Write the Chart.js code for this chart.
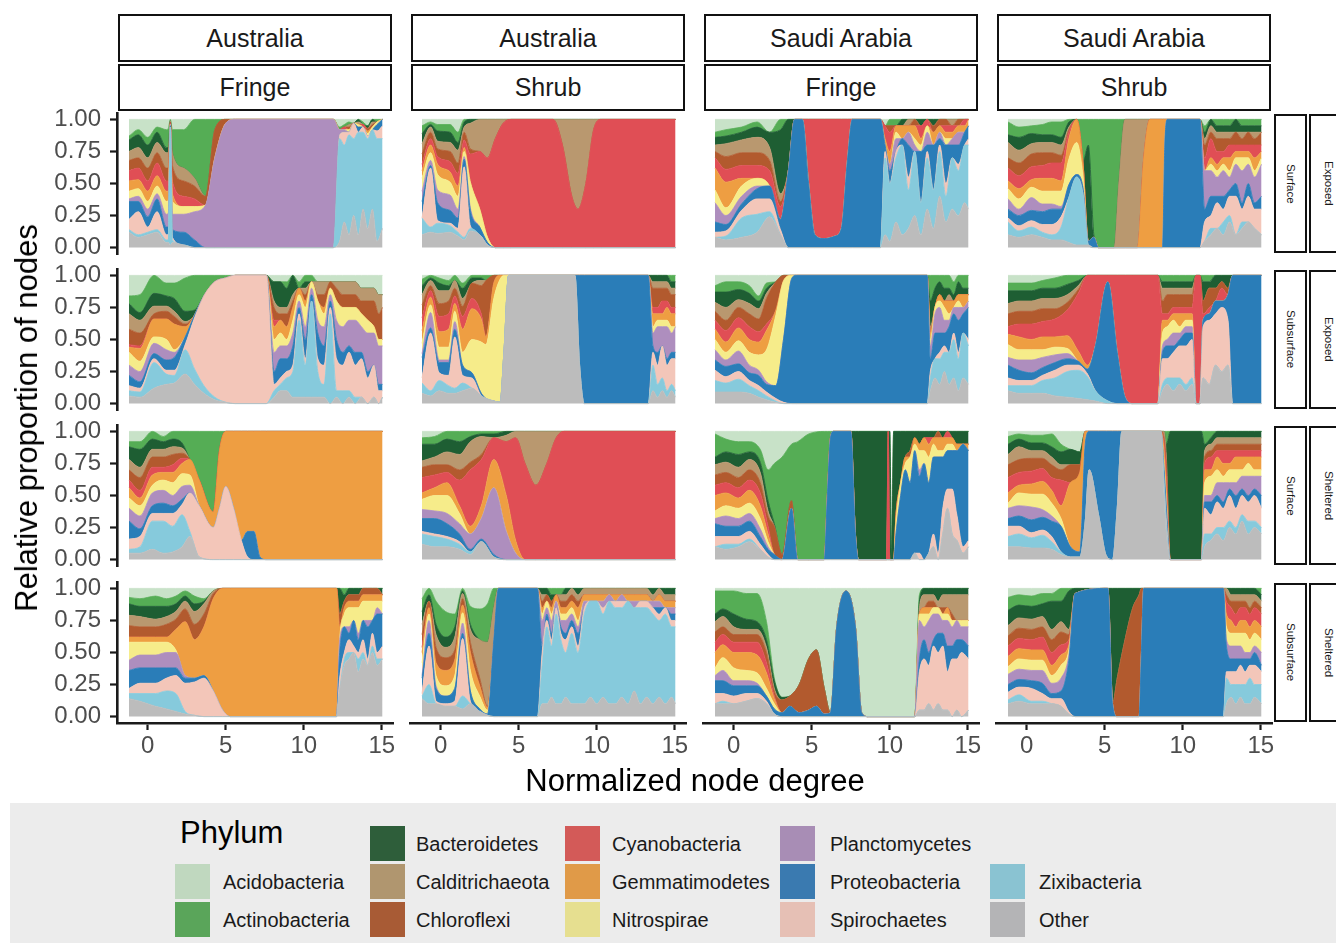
<!DOCTYPE html>
<html>
<head>
<meta charset="utf-8">
<script src="https://cdn.jsdelivr.net/npm/chart.js@4.4.1/dist/chart.umd.min.js"></script>
<style>
  body { margin: 0; background: #fff; font-family: "Liberation Sans", Arial, sans-serif; }
  #page { position: relative; width: 1336px; height: 943px; overflow: hidden; background: #fff; }
  .cv { position: absolute; }
  .strip { position: absolute; box-sizing: border-box; border: 2.5px solid #111; background: #fff;
           display: flex; align-items: center; justify-content: center; color: #1a1a1a; font-size: 25px; }
  .vstrip { position: absolute; box-sizing: border-box; border: 2.5px solid #111; background: #fff;
            display: flex; align-items: center; justify-content: center; color: #1a1a1a; font-size: 11.5px;
            writing-mode: vertical-rl; }
  .title { position: absolute; color: #000; font-size: 31px; white-space: nowrap; }
  #legend { position: absolute; left: 10px; top: 803px; width: 1326px; height: 140px; background: #ececec; }
  .key { position: absolute; width: 35px; height: 35px; }
  .ltxt { position: absolute; font-size: 20px; color: #1a1a1a; line-height: 24px; white-space: nowrap; }
</style>
</head>
<body>
<div id="page"></div>
<script>
// ==============================
// LABELS
// ==============================
// legend order (top of the stack first)
const phyla = ["Acidobacteria", "Actinobacteria", "Bacteroidetes", "Calditrichaeota", "Chloroflexi",
  "Cyanobacteria", "Gemmatimodetes", "Nitrospirae", "Planctomycetes", "Proteobacteria",
  "Spirochaetes", "Zixibacteria", "Other"];

// stack order, bottom first; every data row is [x, then one value per name here]
const stackNames = ["Other", "Zixibacteria", "Spirochaetes", "Proteobacteria", "Planctomycetes",
  "Nitrospirae", "Gemmatimodetes", "Cyanobacteria", "Chloroflexi", "Calditrichaeota",
  "Bacteroidetes", "Actinobacteria", "Acidobacteria"];

const fillColors = {
  Acidobacteria: "#c8e2c8", Actinobacteria: "#55ad55", Bacteroidetes: "#1e5e33",
  Calditrichaeota: "#b9986f", Chloroflexi: "#b25a2e", Cyanobacteria: "#e04e55",
  Gemmatimodetes: "#ee9e42", Nitrospirae: "#f6ec8a", Planctomycetes: "#ae8ebe",
  Proteobacteria: "#2a7db8", Spirochaetes: "#f3c6b9", Zixibacteria: "#86cadc", Other: "#bcbcbc"
};
const legendColors = {
  Acidobacteria: "#c0d8bf", Actinobacteria: "#5aa55a", Bacteroidetes: "#2e5e3a",
  Calditrichaeota: "#b0966f", Chloroflexi: "#a85b35", Cyanobacteria: "#d35a58",
  Gemmatimodetes: "#e09a48", Nitrospirae: "#e6df90", Planctomycetes: "#a88db5",
  Proteobacteria: "#3a7ab0", Spirochaetes: "#e6c0b5", Zixibacteria: "#8ac3d2", Other: "#b4b4b6"
};

const regions = ["Australia", "Australia", "Saudi Arabia", "Saudi Arabia"];
const habitats = ["Fringe", "Shrub", "Fringe", "Shrub"];
const depths = ["Surface", "Subsurface", "Surface", "Subsurface"];
const exposures = ["Exposed", "Exposed", "Sheltered", "Sheltered"];

const xTicks = [0, 5, 10, 15];
const yTicks = [0, 0.25, 0.5, 0.75, 1];

// ==============================
// DATA  [x, Oth, Zix, Spi, Pro, Pla, Nit, Gem, Cya, Chl, Cal, Bac, Act, Aci]
// ==============================
const auFrSurfExp = [
  [-1.2, 12,2,8,14,2,6,8,8,8,7,9,3,13],
  [-0.6, 8,2,18,8,4,6,7,9,8,8,10,4,8],
  [0.0, 10,2,4,8,6,6,8,8,10,8,10,6,14],
  [0.6, 12,2,14,10,4,6,8,10,8,8,8,4,6],
  [1.2, 4,2,4,6,10,10,8,8,10,12,4,14,8],
  [1.32, 4,2,4,6,11,10,7,8,10,12,4,15,7],
  [1.45, 2,92,0,1,1,0,0,1,1,1,0,1,0],
  [1.58, 4,2,2,6,12,10,6,10,12,10,0,18,8],
  [2.3, 2,0,0,10,14,6,0,8,12,10,0,30,8],
  [3.0, 0,0,0,6,22,4,0,6,10,6,0,46,0],
  [3.7, 0,0,0,0,33,0,0,0,7,0,0,60,0],
  [4.3, 0,0,0,0,70,0,0,0,22,0,0,8,0],
  [5.0, 0,0,0,0,97,0,0,0,3,0,0,0,0],
  [5.6, 0,0,0,0,100,0,0,0,0,0,0,0,0],
  [11.9, 0,0,0,0,100,0,0,0,0,0,0,0,0],
  [12.3, 5,80,3,0,4,0,0,0,0,0,0,2,6],
  [12.6, 20,60,10,0,2,0,0,2,0,0,0,2,4],
  [12.9, 10,78,2,0,0,2,0,0,2,2,0,2,2],
  [13.2, 25,60,12,0,0,0,0,0,0,0,0,0,3],
  [13.5, 10,80,0,4,0,2,0,0,0,2,2,0,0],
  [13.8, 30,60,4,0,0,0,0,2,0,0,0,2,2],
  [14.1, 15,70,2,0,0,2,2,0,2,0,2,0,5],
  [14.4, 30,62,0,0,0,2,0,0,2,2,2,0,0],
  [14.7, 5,80,6,5,0,2,0,0,0,0,0,2,0],
  [15.05, 15,70,10,5,0,0,0,0,0,0,0,0,0]
];

const auShSurfExp = [
  [-1.2, 10,13,0,13,8,10,6,5,8,8,8,6,5],
  [-0.65, 12,4,46,2,4,6,6,5,5,4,2,2,2],
  [-0.2, 11,8,2,14,10,12,8,6,6,6,8,5,4],
  [0.6, 12,5,2,10,12,10,8,8,8,7,8,6,4],
  [1.1, 9,3,3,8,7,10,8,10,8,10,6,8,10],
  [1.5, 6,2,55,6,2,4,3,6,6,4,4,2,0],
  [1.9, 13,2,2,12,2,20,0,22,4,20,3,0,0],
  [2.5, 10,0,0,6,0,14,0,45,0,25,0,0,0],
  [3.0, 2,0,0,2,0,4,0,62,0,30,0,0,0],
  [3.5, 0,0,0,0,0,0,0,85,0,15,0,0,0],
  [4.0, 0,0,0,0,0,0,0,97,0,3,0,0,0],
  [4.5, 0,0,0,0,0,0,0,100,0,0,0,0,0],
  [7.2, 0,0,0,0,0,0,0,100,0,0,0,0,0],
  [7.8, 0,0,0,0,0,0,0,80,0,20,0,0,0],
  [8.4, 0,0,0,0,0,0,0,40,0,60,0,0,0],
  [8.8, 0,0,0,0,0,0,0,30,0,70,0,0,0],
  [9.3, 0,0,0,0,0,0,0,50,0,50,0,0,0],
  [9.8, 0,0,0,0,0,0,0,92,0,8,0,0,0],
  [10.3, 0,0,0,0,0,0,0,100,0,0,0,0,0],
  [15.05, 0,0,0,0,0,0,0,100,0,0,0,0,0]
];

const saFrSurfExp = [
  [-1.2, 8,0,4,8,15,10,17,8,5,5,6,4,10],
  [-0.5, 6,3,4,5,7,6,20,10,10,10,6,5,8],
  [0.5, 8,15,6,5,6,8,6,10,10,10,6,4,6],
  [1.5, 12,14,12,8,2,6,0,10,10,12,8,4,2],
  [2.3, 24,4,10,10,0,0,0,12,8,10,12,0,10],
  [3.0, 10,0,4,8,0,0,0,10,4,6,50,8,0],
  [3.5, 0,0,0,60,0,0,0,0,0,0,40,0,0],
  [3.9, 0,0,0,100,0,0,0,0,0,0,0,0,0],
  [4.4, 0,0,0,100,0,0,0,0,0,0,0,0,0],
  [4.8, 0,0,0,50,0,0,0,50,0,0,0,0,0],
  [5.2, 0,0,0,10,0,0,0,90,0,0,0,0,0],
  [5.8, 0,0,0,7,0,0,0,93,0,0,0,0,0],
  [6.5, 0,0,0,9,0,0,0,91,0,0,0,0,0],
  [6.9, 0,0,0,15,0,0,0,85,0,0,0,0,0],
  [7.3, 0,0,0,70,0,0,0,30,0,0,0,0,0],
  [7.6, 0,0,0,100,0,0,0,0,0,0,0,0,0],
  [9.4, 0,0,0,100,0,0,0,0,0,0,0,0,0],
  [9.7, 10,60,5,5,0,0,5,10,0,0,0,0,5],
  [10.0, 5,45,0,10,5,0,10,15,5,0,0,5,0],
  [10.4, 20,50,5,0,10,5,5,0,0,0,0,5,0],
  [10.8, 10,70,0,5,0,0,10,0,0,0,5,0,0],
  [11.2, 15,30,10,25,10,0,5,0,0,5,0,0,0],
  [11.6, 25,50,0,0,5,5,10,0,5,0,0,0,0],
  [12.0, 10,25,0,40,0,5,5,10,0,0,5,0,0],
  [12.4, 30,40,5,5,10,5,0,5,0,0,0,0,0],
  [12.8, 15,30,0,35,0,0,10,0,5,0,5,0,0],
  [13.2, 40,35,5,5,5,0,5,0,5,0,0,0,0],
  [13.6, 20,20,10,30,0,5,5,5,5,0,0,0,0],
  [14.0, 30,40,0,10,5,0,5,5,0,5,0,0,0],
  [14.4, 25,35,5,15,10,0,5,0,5,0,0,0,0],
  [14.8, 35,45,0,10,0,0,5,5,0,0,0,0,0],
  [15.05, 30,50,5,10,0,0,5,0,0,0,0,0,0]
];

const saShSurfExp = [
  [-1.2, 10,10,3,7,8,8,6,10,8,12,6,10,2],
  [-0.5, 8,5,4,8,5,8,8,10,10,10,10,8,6],
  [0.3, 10,6,5,8,10,8,6,10,10,8,8,6,5],
  [1.0, 8,4,6,10,6,10,10,10,10,8,6,8,4],
  [1.6, 6,4,8,12,4,10,10,12,8,8,6,10,2],
  [2.2, 6,10,8,6,2,12,8,14,6,8,6,12,2],
  [2.7, 4,35,0,10,0,20,16,5,2,2,4,2,0],
  [3.2, 2,53,0,2,0,25,18,0,0,0,0,0,0],
  [3.6, 2,40,0,5,0,10,10,0,0,0,0,33,0],
  [3.95, 2,0,0,3,0,0,0,0,0,0,75,20,0],
  [4.3, 0,0,0,8,0,0,0,0,0,0,2,90,0],
  [4.6, 0,0,0,0,0,0,0,0,0,0,0,100,0],
  [5.6, 0,0,0,0,0,0,0,0,0,0,0,100,0],
  [5.9, 0,0,0,0,0,0,0,0,0,50,0,50,0],
  [6.3, 0,0,0,0,0,0,0,0,0,100,0,0,0],
  [7.1, 0,0,0,0,0,0,0,0,0,100,0,0,0],
  [7.5, 0,0,0,0,0,0,70,0,0,30,0,0,0],
  [7.9, 0,0,0,0,0,0,100,0,0,0,0,0,0],
  [8.7, 0,0,0,0,0,0,100,0,0,0,0,0,0],
  [8.85, 0,0,0,80,0,0,20,0,0,0,0,0,0],
  [9.0, 0,0,0,100,0,0,0,0,0,0,0,0,0],
  [11.1, 0,0,0,100,0,0,0,0,0,0,0,0,0],
  [11.4, 5,0,15,10,30,0,0,10,10,5,5,5,5],
  [11.8, 10,5,10,15,20,5,5,15,5,5,5,0,0],
  [12.2, 15,0,20,5,15,5,5,10,10,5,5,5,0],
  [12.6, 10,10,10,10,20,5,5,5,10,5,5,5,0],
  [13.0, 20,5,15,5,10,5,10,10,5,5,5,5,0],
  [13.4, 10,0,30,10,15,5,5,5,10,0,10,0,0],
  [13.8, 15,5,10,5,25,10,5,5,5,5,5,5,0],
  [14.2, 20,0,20,10,15,5,5,5,10,0,5,5,0],
  [14.6, 15,0,15,5,20,5,10,10,5,5,5,5,0],
  [15.05, 10,0,20,10,25,5,5,5,10,0,5,5,0]
];

const auFrSubExp = [
  [-1.2, 6,4,4,8,8,10,4,2,12,12,8,6,16],
  [-0.5, 5,4,3,5,8,8,10,2,10,10,6,14,15],
  [0.4, 12,20,3,4,8,5,14,0,4,6,10,14,0],
  [1.2, 15,8,3,8,8,8,16,0,6,4,8,10,6],
  [1.7, 16,6,4,10,4,2,20,0,6,4,10,12,6],
  [2.4, 23,19,4,6,0,0,8,0,2,2,8,26,2],
  [3.0, 15,12,40,2,0,0,0,0,0,0,4,27,0],
  [3.6, 8,6,70,0,0,0,0,0,0,0,0,16,0],
  [4.3, 3,2,90,0,0,0,0,0,0,0,0,5,0],
  [5.0, 1,0,97,0,0,0,0,0,0,0,0,2,0],
  [5.6, 0,0,100,0,0,0,0,0,0,0,0,0,0],
  [7.6, 0,0,100,0,0,0,0,0,0,0,0,0,0],
  [8.1, 5,5,5,10,15,10,10,5,10,5,15,0,5],
  [8.5, 10,5,5,15,10,10,10,0,5,5,20,0,5],
  [8.9, 10,10,5,10,10,5,10,0,10,5,15,5,5],
  [9.3, 5,20,5,15,10,10,10,0,5,5,15,0,0],
  [9.7, 5,60,5,5,5,5,5,0,0,0,0,5,5],
  [10.1, 5,25,5,15,10,15,5,0,5,5,5,5,0],
  [10.5, 5,75,0,5,5,5,0,0,0,0,0,5,0],
  [10.9, 5,20,10,20,10,15,0,0,5,10,0,0,5],
  [11.3, 5,10,15,15,15,10,5,0,10,10,0,0,5],
  [11.7, 0,70,5,5,5,5,0,0,5,0,0,0,5],
  [12.1, 5,5,25,15,15,15,0,0,10,5,0,0,5],
  [12.5, 0,10,20,10,20,15,0,0,10,10,0,0,5],
  [12.9, 5,5,30,5,20,10,0,0,10,10,0,0,5],
  [13.3, 0,5,25,10,25,10,0,0,10,10,0,0,5],
  [13.7, 5,0,30,5,20,10,0,0,10,10,0,0,10],
  [14.1, 0,0,20,5,30,10,0,0,15,10,0,0,10],
  [14.5, 5,0,25,0,25,5,0,0,20,10,0,0,10],
  [14.8, 0,0,10,5,30,5,0,0,20,15,0,0,15],
  [15.05, 5,0,5,5,30,5,0,0,25,10,0,0,15]
];

const auShSubExp = [
  [-1.2, 8,8,4,16,3,8,10,10,10,8,7,5,3],
  [-0.65, 6,4,45,4,12,6,6,5,4,4,2,2,0],
  [-0.1, 10,8,6,8,2,10,12,12,10,10,6,4,2],
  [0.5, 8,6,8,10,2,10,14,12,10,8,4,4,4],
  [0.9, 8,4,40,6,6,8,6,6,6,6,0,4,0],
  [1.4, 10,6,6,8,0,10,18,10,8,6,8,4,6],
  [2.0, 12,0,8,4,0,26,24,8,12,0,4,2,0],
  [2.6, 6,0,0,2,0,40,18,4,22,4,2,2,0],
  [2.9, 4,0,0,0,0,42,6,0,44,0,0,4,0],
  [3.4, 2,0,0,0,0,80,12,0,6,0,0,0,0],
  [3.8, 1,0,0,0,0,96,3,0,0,0,0,0,0],
  [4.05, 40,0,0,0,0,60,0,0,0,0,0,0,0],
  [4.35, 100,0,0,0,0,0,0,0,0,0,0,0,0],
  [8.6, 100,0,0,0,0,0,0,0,0,0,0,0,0],
  [8.9, 30,0,0,70,0,0,0,0,0,0,0,0,0],
  [9.2, 0,0,0,100,0,0,0,0,0,0,0,0,0],
  [13.3, 0,0,0,100,0,0,0,0,0,0,0,0,0],
  [13.6, 10,20,10,5,10,5,10,5,15,5,5,0,0],
  [13.9, 5,10,15,10,20,5,5,5,15,5,5,0,0],
  [14.2, 10,10,25,0,15,5,5,10,10,5,5,0,0],
  [14.5, 5,5,20,5,25,5,10,5,10,5,5,0,0],
  [14.8, 10,5,20,5,15,5,10,5,10,5,5,5,0],
  [15.05, 5,5,25,5,20,0,10,5,10,5,5,5,0]
];

const saFrSubExp = [
  [-1.2, 9,9,8,8,8,8,8,7,7,7,8,5,8],
  [-0.5, 9,7,5,8,5,6,8,9,8,10,12,8,5],
  [0.3, 9,10,6,6,10,8,10,8,8,6,8,6,5],
  [1.0, 8,6,4,6,6,10,10,10,10,8,8,6,8],
  [1.6, 5,5,4,8,4,12,10,8,10,8,6,4,16],
  [2.1, 3,3,3,6,2,25,15,5,20,4,4,4,6],
  [2.7, 1,1,2,10,0,55,4,0,22,0,0,0,5],
  [3.2, 0,0,1,50,0,45,0,0,4,0,0,0,0],
  [3.7, 0,0,0,97,0,3,0,0,0,0,0,0,0],
  [4.0, 0,0,0,100,0,0,0,0,0,0,0,0,0],
  [12.4, 0,0,0,100,0,0,0,0,0,0,0,0,0],
  [12.6, 10,10,5,10,10,5,5,0,0,5,20,20,0],
  [12.9, 20,15,0,20,15,5,0,0,0,0,15,10,0],
  [13.2, 15,20,5,15,20,5,5,0,0,0,10,5,0],
  [13.5, 25,15,5,10,10,10,5,0,0,0,10,10,0],
  [13.8, 15,25,0,20,5,5,10,0,0,5,5,10,0],
  [14.1, 20,30,5,15,5,0,5,0,0,0,5,10,5],
  [14.4, 10,25,5,25,10,5,5,0,0,0,10,5,0],
  [14.7, 20,35,0,15,5,0,10,0,0,0,5,10,0],
  [15.05, 15,30,5,25,5,0,5,0,0,0,5,10,0]
];

const saShSubExp = [
  [-1.2, 10,4,6,10,6,10,8,6,10,8,10,6,6],
  [-0.5, 8,6,4,8,8,8,10,10,10,8,8,6,6],
  [0.3, 8,6,4,6,10,8,8,12,10,8,8,6,6],
  [1.0, 8,10,4,6,8,6,10,12,10,8,8,6,4],
  [1.8, 6,14,6,6,6,6,8,14,8,8,8,8,2],
  [2.6, 5,20,5,5,4,4,10,20,6,6,8,7,0],
  [3.3, 4,22,4,3,0,0,8,45,3,3,4,4,0],
  [3.9, 3,18,2,4,0,0,3,70,0,0,0,0,0],
  [4.4, 2,8,0,35,0,0,0,55,0,0,0,0,0],
  [5.2, 0,2,0,93,0,0,0,5,0,0,0,0,0],
  [5.8, 0,0,0,40,0,0,0,60,0,0,0,0,0],
  [6.3, 0,0,0,5,0,0,0,95,0,0,0,0,0],
  [6.8, 0,0,0,0,0,0,0,100,0,0,0,0,0],
  [8.4, 0,0,0,0,0,0,0,100,0,0,0,0,0],
  [8.7, 10,5,20,5,5,10,10,5,10,10,5,5,0],
  [9.0, 15,5,15,10,5,10,5,5,15,5,5,5,0],
  [9.4, 10,10,20,5,10,10,5,5,10,5,5,5,0],
  [9.8, 15,5,25,5,5,5,10,5,10,5,5,5,0],
  [10.2, 10,5,30,10,5,5,5,5,10,5,5,5,0],
  [10.6, 15,5,30,5,5,5,5,5,10,5,5,5,0],
  [10.85, 0,0,0,0,0,0,0,100,0,0,0,0,0],
  [11.1, 0,0,0,0,0,0,0,100,0,0,0,0,0],
  [11.3, 20,0,40,5,0,0,0,5,10,0,15,5,0],
  [11.7, 15,0,50,5,0,0,0,5,15,0,5,5,0],
  [12.1, 30,0,40,10,0,0,0,0,10,0,10,0,0],
  [12.5, 25,0,50,5,0,0,0,10,5,0,5,0,0],
  [12.9, 30,0,35,20,0,0,0,0,5,0,10,0,0],
  [13.2, 0,0,0,100,0,0,0,0,0,0,0,0,0],
  [15.05, 0,0,0,100,0,0,0,0,0,0,0,0,0]
];

const auFrSurfShe = [
  [-1.2, 5,3,8,14,10,8,8,6,8,8,10,4,8],
  [-0.5, 5,5,8,6,10,8,6,6,10,8,14,6,8],
  [0.3, 8,22,6,6,10,6,8,6,8,6,8,6,0],
  [1.0, 5,25,6,8,10,8,6,4,8,6,6,4,4],
  [1.6, 6,20,10,6,8,10,8,6,8,6,6,6,0],
  [2.2, 10,25,8,4,10,10,8,4,4,4,4,9,0],
  [2.7, 18,4,30,0,6,8,12,0,0,0,0,22,0],
  [3.3, 2,0,40,0,0,0,20,0,0,0,0,38,0],
  [4.2, 0,0,25,0,0,0,12,0,0,0,0,63,0],
  [4.6, 0,0,40,0,0,0,45,0,0,0,0,15,0],
  [5.0, 0,0,57,0,0,0,43,0,0,0,0,0,0],
  [5.5, 0,0,40,0,0,0,60,0,0,0,0,0,0],
  [6.0, 0,0,15,0,0,0,85,0,0,0,0,0,0],
  [6.4, 0,0,2,20,0,0,78,0,0,0,0,0,0],
  [6.8, 0,0,0,22,0,0,78,0,0,0,0,0,0],
  [7.2, 0,0,0,2,0,0,98,0,0,0,0,0,0],
  [7.6, 0,0,0,0,0,0,100,0,0,0,0,0,0],
  [15.05, 0,0,0,0,0,0,100,0,0,0,0,0,0]
];

const auShSurfShe = [
  [-1.2, 12,8,2,10,7,8,5,12,8,5,13,5,5],
  [-0.4, 10,8,2,12,6,12,6,10,8,6,10,6,4],
  [0.4, 10,6,2,10,8,14,10,8,6,10,10,6,0],
  [1.2, 8,4,2,6,8,8,6,20,8,12,10,8,0],
  [1.9, 4,2,0,2,12,0,6,44,6,16,4,4,0],
  [2.6, 14,0,0,2,16,0,10,36,4,14,2,2,0],
  [3.4, 2,0,0,2,52,0,22,17,0,0,3,2,0],
  [4.2, 0,0,0,0,22,0,28,42,0,5,3,0,0],
  [4.8, 0,0,0,0,5,0,10,80,0,5,0,0,0],
  [5.4, 0,0,0,0,0,0,0,75,0,25,0,0,0],
  [6.1, 0,0,0,0,0,0,0,58,0,42,0,0,0],
  [6.8, 0,0,0,0,0,0,0,75,0,25,0,0,0],
  [7.4, 0,0,0,0,0,0,0,95,0,5,0,0,0],
  [7.9, 0,0,0,0,0,0,0,100,0,0,0,0,0],
  [15.05, 0,0,0,0,0,0,0,100,0,0,0,0,0]
];

const saFrSurfShe = [
  [-1.2, 10,0,8,10,4,6,12,8,8,8,6,18,2],
  [-0.5, 8,4,6,8,8,8,10,8,8,8,8,10,6],
  [0.3, 10,2,6,8,6,8,8,8,8,8,10,10,8],
  [1.0, 14,2,6,8,6,8,10,8,8,8,6,8,8],
  [1.7, 8,0,4,6,6,8,10,10,8,8,8,10,14],
  [2.2, 2,0,2,4,2,4,6,6,8,4,8,24,30],
  [2.6, 0,0,0,4,0,0,0,0,22,0,2,47,25],
  [3.1, 0,0,0,0,0,0,0,0,4,0,0,76,20],
  [3.7, 0,0,0,40,0,0,0,0,6,0,0,44,10],
  [4.1, 0,0,0,0,0,0,0,0,0,0,0,92,8],
  [4.8, 0,0,0,0,0,0,0,0,0,0,0,98,2],
  [5.8, 0,0,0,0,0,0,0,0,0,0,0,100,0],
  [6.0, 0,0,0,50,0,0,0,0,0,0,0,50,0],
  [6.2, 0,0,0,95,0,0,0,0,0,0,0,5,0],
  [6.4, 0,0,0,100,0,0,0,0,0,0,0,0,0],
  [7.5, 0,0,0,100,0,0,0,0,0,0,0,0,0],
  [7.8, 0,0,0,20,0,0,0,0,0,0,80,0,0],
  [8.0, 0,0,0,0,0,0,0,0,0,0,100,0,0],
  [9.8, 0,0,0,0,0,0,0,0,0,0,100,0,0],
  [9.9, 0,0,0,0,0,0,0,100,0,0,0,0,0],
  [10.0, 0,0,0,0,0,0,0,0,0,0,100,0,0],
  [10.12, 0,0,0,0,0,0,0,0,0,0,0,0,0],
  [10.25, 0,0,0,0,0,0,0,0,0,0,100,0,0],
  [10.4, 0,0,0,20,0,10,5,0,0,0,65,0,0],
  [10.7, 0,0,0,50,0,10,0,0,0,0,40,0,0],
  [11.0, 0,0,0,70,0,5,5,0,0,0,20,0,0],
  [11.3, 0,0,0,60,0,20,0,0,5,0,15,0,0],
  [11.6, 5,0,0,80,0,5,5,0,0,0,5,0,0],
  [11.9, 0,0,5,60,5,15,5,0,0,0,10,0,0],
  [12.2, 0,0,0,75,0,10,10,0,0,0,5,0,0],
  [12.5, 5,0,0,55,0,20,10,5,0,0,5,0,0],
  [12.8, 10,0,10,60,0,10,5,0,0,0,5,0,0],
  [13.1, 0,0,5,75,0,5,10,0,5,0,0,0,0],
  [13.4, 20,0,20,40,0,5,10,0,0,0,5,0,0],
  [13.7, 40,0,15,30,0,5,5,5,0,0,0,0,0],
  [14.0, 20,0,35,30,0,5,5,0,0,0,5,0,0],
  [14.3, 15,0,20,50,0,0,5,0,0,0,10,0,0],
  [14.7, 5,0,5,80,0,0,0,0,0,0,10,0,0],
  [15.05, 10,0,5,70,0,0,5,0,0,0,10,0,0]
];

const saShSurfShe = [
  [-1.2, 10,8,8,6,8,4,8,12,10,8,8,6,4],
  [-0.5, 10,10,6,8,8,10,6,10,10,10,6,4,2],
  [0.3, 9,8,4,10,10,10,8,10,10,6,6,6,3],
  [1.0, 9,10,4,10,6,12,10,10,8,6,6,6,3],
  [1.6, 8,6,4,12,4,10,10,10,10,6,8,10,2],
  [2.2, 4,2,0,20,0,6,10,20,8,4,10,6,10],
  [2.8, 2,0,0,8,0,0,50,0,14,0,12,0,14],
  [3.4, 2,0,0,4,0,0,62,0,6,0,10,0,16],
  [3.75, 30,0,0,60,0,0,10,0,0,0,0,0,0],
  [4.0, 70,0,0,30,0,0,0,0,0,0,0,0,0],
  [4.6, 35,0,0,65,0,0,0,0,0,0,0,0,0],
  [5.1, 3,0,0,97,0,0,0,0,0,0,0,0,0],
  [5.5, 0,0,0,100,0,0,0,0,0,0,0,0,0],
  [5.8, 40,0,0,60,0,0,0,0,0,0,0,0,0],
  [6.1, 100,0,0,0,0,0,0,0,0,0,0,0,0],
  [8.6, 100,0,0,0,0,0,0,0,0,0,0,0,0],
  [8.8, 50,10,0,10,0,5,10,5,5,5,0,0,0],
  [8.95, 20,5,5,10,0,5,10,10,10,5,10,10,0],
  [9.2, 0,0,0,0,0,0,0,0,0,0,100,0,0],
  [11.2, 0,0,0,0,0,0,0,0,0,0,100,0,0],
  [11.4, 10,10,20,5,5,10,10,5,5,5,5,10,0],
  [11.8, 15,5,15,10,5,15,5,10,5,5,5,5,0],
  [12.2, 20,5,20,5,10,10,10,5,5,5,5,0,0],
  [12.6, 15,10,15,5,15,5,10,10,5,5,5,0,0],
  [13.0, 25,5,20,5,5,10,5,10,5,5,5,0,0],
  [13.4, 20,5,15,10,10,10,10,5,5,5,5,0,0],
  [13.8, 30,5,15,5,10,5,10,5,5,5,5,0,0],
  [14.2, 20,10,15,5,15,10,5,5,5,5,5,0,0],
  [14.6, 25,5,20,5,10,5,10,5,5,5,5,0,0],
  [15.05, 20,5,15,10,15,5,10,5,5,5,5,0,0]
];

const auFrSubShe = [
  [-1.2, 14,4,4,14,8,14,4,0,9,8,9,5,7],
  [-0.5, 12,6,8,12,10,10,4,0,8,8,8,6,8],
  [0.5, 8,10,8,12,10,10,4,0,8,6,10,8,6],
  [1.2, 6,14,10,8,12,8,4,0,10,6,8,6,8],
  [1.8, 4,14,14,6,12,2,16,0,8,6,6,6,6],
  [2.4, 2,2,22,4,2,0,42,0,10,6,4,4,2],
  [3.0, 1,0,26,3,0,0,30,0,12,10,6,6,6],
  [3.6, 0,0,30,2,0,0,38,0,10,8,2,2,8],
  [4.2, 0,0,20,0,0,0,72,0,4,2,0,0,2],
  [4.8, 0,0,5,0,0,0,95,0,0,0,0,0,0],
  [5.3, 0,0,0,0,0,0,100,0,0,0,0,0,0],
  [12.1, 0,0,0,0,0,0,100,0,0,0,0,0,0],
  [12.3, 20,0,10,20,10,0,10,0,10,0,20,0,0],
  [12.6, 40,5,5,20,0,10,5,0,5,0,5,5,0],
  [12.9, 45,5,10,5,5,15,5,0,5,0,5,0,0],
  [13.2, 50,0,5,20,0,10,5,0,5,0,5,0,0],
  [13.5, 35,10,5,10,5,20,5,0,5,0,5,0,0],
  [13.8, 45,5,10,15,0,15,5,0,5,0,0,0,0],
  [14.1, 40,0,5,25,5,15,5,0,5,0,0,0,0],
  [14.4, 50,5,10,10,0,15,5,0,5,0,0,0,0],
  [14.7, 40,5,5,30,5,5,5,0,5,0,0,0,0],
  [15.05, 45,0,10,25,0,10,5,0,0,0,5,0,0]
];

const auShSubShe = [
  [-1.2, 14,2,2,12,2,10,8,4,10,8,10,10,8],
  [-0.75, 10,15,30,10,10,5,5,0,5,0,5,5,0],
  [-0.3, 10,0,2,10,2,8,10,0,12,10,8,18,10],
  [0.3, 8,0,2,6,0,8,12,0,10,8,8,20,18],
  [0.9, 8,0,4,10,0,10,12,0,8,10,8,10,20],
  [1.4, 6,10,45,4,8,8,6,0,5,4,2,2,0],
  [1.9, 10,0,2,8,0,16,14,0,8,10,4,14,14],
  [2.5, 4,0,0,2,0,10,8,0,6,30,0,24,16],
  [3.0, 1,0,0,1,0,3,2,0,1,50,0,30,12],
  [3.4, 0,0,0,60,0,0,0,0,0,25,0,15,0],
  [3.7, 0,0,0,100,0,0,0,0,0,0,0,0,0],
  [6.2, 0,0,0,100,0,0,0,0,0,0,0,0,0],
  [6.5, 10,30,10,5,20,5,5,0,5,5,5,0,0],
  [6.8, 10,60,5,5,5,5,0,0,5,0,5,0,0],
  [7.1, 15,40,5,5,10,5,5,0,5,0,5,5,0],
  [7.4, 10,70,5,0,5,0,5,0,0,0,0,5,0],
  [7.7, 10,50,5,5,5,5,5,0,5,5,0,5,0],
  [8.0, 15,35,10,5,10,5,5,0,5,5,5,0,0],
  [8.4, 10,55,5,5,5,5,5,0,5,5,0,0,0],
  [8.8, 10,40,5,10,5,5,10,0,5,5,5,0,0],
  [9.2, 10,70,5,0,5,0,5,0,0,5,0,0,0],
  [9.6, 15,75,0,0,0,0,5,0,0,5,0,0,0],
  [10.0, 10,80,0,0,0,0,5,0,0,5,0,0,0],
  [10.4, 15,65,5,0,5,0,5,0,0,5,0,0,0],
  [10.8, 10,80,0,0,5,0,0,0,0,5,0,0,0],
  [11.2, 10,75,5,0,0,0,5,0,0,5,0,0,0],
  [11.6, 15,70,5,0,5,0,0,0,0,5,0,0,0],
  [12.0, 10,80,0,0,0,0,5,0,0,5,0,0,0],
  [12.4, 20,65,0,0,5,0,5,0,0,5,0,0,0],
  [12.8, 10,75,5,0,0,0,5,0,0,5,0,0,0],
  [13.2, 15,70,5,0,0,0,5,0,0,5,0,0,0],
  [13.6, 10,70,5,0,5,0,0,0,0,5,5,0,0],
  [14.0, 15,60,5,5,5,0,5,0,0,5,0,0,0],
  [14.4, 10,70,5,0,0,0,5,0,0,5,5,0,0],
  [14.8, 15,55,5,5,5,0,5,0,0,5,5,0,0],
  [15.05, 10,60,5,5,5,0,5,0,0,5,5,0,0]
];

const saFrSubShe = [
  [-1.2, 10,0,8,10,4,6,12,8,8,8,6,18,2],
  [-0.7, 10,2,6,10,8,10,10,8,6,8,6,14,2],
  [0.0, 10,0,6,8,4,10,12,8,6,6,10,18,2],
  [0.8, 12,0,6,6,4,8,14,8,6,4,8,20,4],
  [1.5, 14,0,4,6,2,8,14,10,6,4,6,22,4],
  [2.1, 10,0,2,4,0,6,12,8,8,4,6,14,26],
  [2.6, 2,0,0,4,0,4,4,2,4,2,6,2,70],
  [3.1, 0,0,0,3,0,0,0,0,10,0,2,0,85],
  [3.6, 0,0,0,8,0,0,0,0,8,0,0,0,84],
  [4.2, 0,0,0,3,0,0,0,0,22,0,0,0,75],
  [4.8, 0,0,0,5,0,0,0,0,40,0,0,0,55],
  [5.3, 0,0,0,8,0,0,0,0,44,0,0,0,48],
  [5.8, 0,0,0,2,0,0,0,0,20,0,0,0,78],
  [6.2, 0,0,0,3,0,0,0,0,0,0,0,0,97],
  [6.6, 0,0,0,70,0,0,0,0,0,0,0,0,30],
  [7.2, 0,0,0,98,0,0,0,0,0,0,0,0,2],
  [7.8, 0,0,0,70,0,0,0,0,0,0,0,0,30],
  [8.2, 0,0,0,3,0,0,0,0,0,0,0,0,97],
  [8.6, 0,0,0,0,0,0,0,0,0,0,0,0,100],
  [11.6, 0,0,0,0,0,0,0,0,0,0,0,0,100],
  [11.9, 5,0,30,10,30,5,0,0,0,5,5,5,5],
  [12.2, 5,0,40,15,10,10,5,0,0,10,5,0,0],
  [12.5, 10,0,30,10,25,5,5,0,5,5,5,0,0],
  [12.8, 5,0,50,5,20,5,0,0,5,5,5,0,0],
  [13.1, 10,0,40,15,15,5,0,0,0,5,10,0,0],
  [13.4, 5,0,50,10,10,5,0,0,5,10,5,0,0],
  [13.7, 5,0,30,20,20,5,5,0,0,10,5,0,0],
  [14.0, 0,0,45,10,15,5,0,0,5,15,5,0,0],
  [14.3, 5,0,40,15,15,0,0,0,0,20,5,0,0],
  [14.6, 0,0,50,10,10,5,0,0,0,20,5,0,0],
  [15.05, 5,0,40,10,15,5,0,0,0,20,5,0,0]
];

const saShSubShe = [
  [-1.2, 10,3,6,6,8,6,8,8,8,8,12,10,7],
  [-0.5, 12,5,6,6,8,8,8,8,8,8,10,8,5],
  [0.3, 10,2,10,6,8,8,8,8,8,8,10,8,6],
  [1.0, 10,2,6,8,10,8,8,10,8,8,10,8,4],
  [1.6, 10,0,4,4,8,6,8,10,10,8,22,6,4],
  [2.2, 8,0,6,6,10,10,8,8,10,8,16,10,0],
  [2.7, 2,0,2,40,4,4,4,4,4,4,30,2,0],
  [3.1, 0,0,0,96,0,0,0,0,0,0,4,0,0],
  [5.2, 0,0,0,100,0,0,0,0,0,0,0,0,0],
  [5.5, 0,0,0,10,0,0,0,0,0,0,90,0,0],
  [5.8, 0,0,0,0,0,0,0,0,30,0,70,0,0],
  [6.3, 0,0,0,0,0,0,0,0,60,0,40,0,0],
  [6.8, 0,0,0,0,0,0,0,0,85,0,15,0,0],
  [7.2, 0,0,0,0,0,0,0,0,95,0,5,0,0],
  [7.35, 0,0,0,50,0,0,0,0,50,0,0,0,0],
  [7.5, 0,0,0,100,0,0,0,0,0,0,0,0,0],
  [12.6, 0,0,0,100,0,0,0,0,0,0,0,0,0],
  [12.8, 10,20,5,20,5,10,10,10,5,5,0,0,0],
  [13.1, 15,10,10,10,10,10,10,10,5,5,5,0,0],
  [13.4, 10,15,10,10,10,10,5,10,10,5,5,0,0],
  [13.7, 15,10,15,5,10,10,10,10,5,5,5,0,0],
  [14.0, 10,15,10,10,5,15,10,10,5,5,5,0,0],
  [14.3, 10,20,10,5,5,10,10,10,5,10,5,0,0],
  [14.6, 15,10,15,10,5,10,10,10,5,5,5,0,0],
  [15.05, 10,15,10,5,10,10,10,10,5,5,5,5,0]
];

// rows of the facet grid, columns as in the strips
const panels = [
  [auFrSurfExp, auShSurfExp, saFrSurfExp, saShSurfExp],
  [auFrSubExp, auShSubExp, saFrSubExp, saShSubExp],
  [auFrSurfShe, auShSurfShe, saFrSurfShe, saShSurfShe],
  [auFrSubShe, auShSubShe, saFrSubShe, saShSubShe]
];

// ==============================
// LAYOUT
// ==============================
const FONT = "'Liberation Sans', Arial, sans-serif";
const panelLeft = [117, 410, 703, 996];
const panelTop = [113, 269, 425, 582];
const PW = 276, PH = 141;
const Y_AXIS_W = 77, X_AXIS_H = 46, PAD = 16;

Chart.defaults.font.family = FONT;

const page = document.getElementById("page");

function addDiv(cls, css, text) {
  const d = document.createElement("div");
  d.className = cls;
  Object.assign(d.style, css);
  if (text !== undefined) d.textContent = text;
  page.appendChild(d);
  return d;
}

// ==============================
// PANELS
// ==============================
function makePanel(rows, r, c) {
  const hasY = c === 0;
  const hasX = r === 3;
  const w = PW + (hasY ? Y_AXIS_W : 0) + 2 * PAD;
  const h = PH + (hasX ? X_AXIS_H : 0) + 2 * PAD;
  const box = addDiv("cv", {
    left: (panelLeft[c] - (hasY ? Y_AXIS_W : 0) - PAD) + "px",
    top: (panelTop[r] - PAD) + "px",
    width: w + "px", height: h + "px"
  });
  const canvas = document.createElement("canvas");
  canvas.width = w; canvas.height = h;
  box.appendChild(canvas);

  const sums = rows.map(row => row.slice(1).reduce((a, b) => a + b, 0));

  const datasets = stackNames.map((name, k) => ({
    label: name,
    data: rows.map((row, i) => ({ x: row[0], y: sums[i] ? row[k + 1] / sums[i] : 0 })),
    backgroundColor: fillColors[name],
    borderColor: fillColors[name],
    borderWidth: 0.8,
    fill: k === 0 ? "origin" : "-1",
    pointRadius: 0,
    pointHoverRadius: 0,
    cubicInterpolationMode: "monotone"
  }));

  const tickFont = { size: 24, family: FONT };

  new Chart(canvas, {
    type: "line",
    data: { datasets },
    options: {
      responsive: false,
      animation: false,
      devicePixelRatio: 1,
      layout: { padding: PAD },
      plugins: { legend: { display: false }, tooltip: { enabled: false } },
      scales: {
        x: {
          type: "linear",
          min: -1.97, max: 15.72,
          display: hasX,
          afterBuildTicks: s => { s.ticks = xTicks.map(v => ({ value: v })); },
          afterFit: s => {
            if (!hasX) return;
            s.height = X_AXIS_H; s.paddingLeft = 0; s.paddingRight = 0;
          },
          ticks: { font: tickFont, color: "#4d4d4d", padding: 2, maxRotation: 0, autoSkip: false,
                   callback: v => String(v) },
          grid: { drawOnChartArea: false, tickLength: 7, tickColor: "#1a1a1a", tickWidth: 2.2 },
          border: { display: true, color: "#1a1a1a", width: 2.6 }
        },
        y: {
          type: "linear",
          stacked: true,
          min: -0.05, max: 1.05,
          display: hasY,
          afterBuildTicks: s => { s.ticks = yTicks.map(v => ({ value: v })); },
          afterFit: s => {
            if (!hasY) return;
            s.width = Y_AXIS_W; s.paddingTop = 0; s.paddingBottom = 0;
          },
          ticks: { font: tickFont, color: "#4d4d4d", padding: 9, autoSkip: false,
                   callback: v => Number(v).toFixed(2) },
          grid: { drawOnChartArea: false, tickLength: 7, tickColor: "#1a1a1a", tickWidth: 2.2 },
          border: { display: true, color: "#1a1a1a", width: 2.6 }
        }
      }
    }
  });
}

panels.forEach((row, r) => row.forEach((rows, c) => makePanel(rows, r, c)));

// ==============================
// STRIPS
// ==============================
regions.forEach((name, c) => {
  addDiv("strip", { left: (panelLeft[c] + 1) + "px", top: "14px", width: (PW - 2) + "px", height: "48px" }, name);
  addDiv("strip", { left: (panelLeft[c] + 1) + "px", top: "64px", width: (PW - 2) + "px", height: "47px" }, habitats[c]);
});
depths.forEach((name, r) => {
  addDiv("vstrip", { left: "1274px", top: (panelTop[r] + 1) + "px", width: "33px", height: (PH - 2) + "px" }, name);
  addDiv("vstrip", { left: "1309px", top: (panelTop[r] + 1) + "px", width: "40px", height: (PH - 2) + "px" }, exposures[r]);
});

// ==============================
// AXIS TITLES
// ==============================
addDiv("title", { left: "27px", top: "418px", transform: "translate(-50%, -50%) rotate(-90deg)" },
  "Relative proportion of nodes");
addDiv("title", { left: "695px", top: "781px", transform: "translate(-50%, -50%)" },
  "Normalized node degree");

// ==============================
// LEGEND
// ==============================
const legend = document.createElement("div");
legend.id = "legend";
page.appendChild(legend);

const keyX = [165, 360, 555, 770, 980];   // relative to legend box
const textX = [213, 406, 602, 820, 1029];
const rowY = [23, 61, 99];                // key tops
const slots = [
  [null, "Acidobacteria", "Actinobacteria"],
  ["Bacteroidetes", "Calditrichaeota", "Chloroflexi"],
  ["Cyanobacteria", "Gemmatimodetes", "Nitrospirae"],
  ["Planctomycetes", "Proteobacteria", "Spirochaetes"],
  [null, "Zixibacteria", "Other"]
];

const ttl = document.createElement("div");
ttl.className = "ltxt";
Object.assign(ttl.style, { left: "170px", top: "12px", fontSize: "31px", lineHeight: "36px", color: "#000" });
ttl.textContent = "Phylum";
legend.appendChild(ttl);

slots.forEach((col, ci) => col.forEach((name, ri) => {
  if (!name) return;
  const k = document.createElement("div");
  k.className = "key";
  Object.assign(k.style, { left: keyX[ci] + "px", top: rowY[ri] + "px", background: legendColors[name] });
  legend.appendChild(k);
  const t = document.createElement("div");
  t.className = "ltxt";
  Object.assign(t.style, { left: textX[ci] + "px", top: (rowY[ri] + 6) + "px" });
  t.textContent = name;
  legend.appendChild(t);
}));
</script>
</body>
</html>
